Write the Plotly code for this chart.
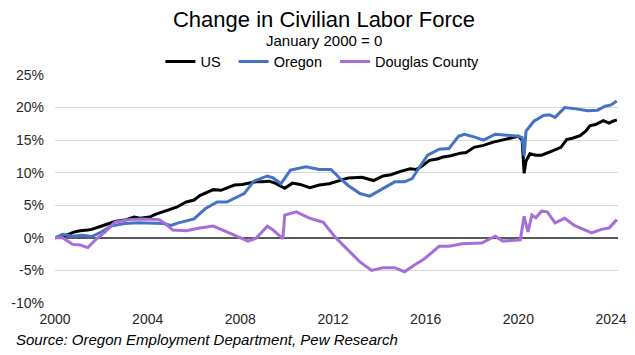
import plotly.graph_objects as go

# ---- data ----
us_dates = ["2000-01","2000-07","2000-11","2001-02","2001-06","2001-08","2002-02","2002-08",
            "2003-02","2003-06","2003-09","2004-02","2004-05","2004-09","2004-11","2005-04",
            "2005-09","2006-01","2006-04","2006-11","2007-03","2007-06","2007-10","2008-02",
            "2008-05","2008-09","2008-12","2009-04","2009-07","2009-12","2010-04","2010-08",
            "2011-01","2011-06","2011-11","2012-04","2012-09","2013-04","2013-10","2014-03",
            "2014-07","2014-12","2015-05","2015-08","2015-11","2016-03","2016-07","2016-10",
            "2017-02","2017-07","2017-10","2018-02","2018-07","2018-12","2019-05","2019-09",
            "2020-01","2020-03","2020-04","2020-05","2020-07","2020-10","2021-01","2021-07",
            "2021-11","2022-02","2022-05","2022-09","2022-12","2023-02","2023-05","2023-09",
            "2023-12","2024-02","2024-04"]
us_values = [0.0,0.4,0.9,1.1,1.2,1.3,1.9,2.5,
             2.8,3.2,3.0,3.2,3.6,4.0,4.2,4.7,
             5.5,5.8,6.5,7.4,7.3,7.6,8.1,8.2,
             8.4,8.6,8.6,8.7,8.4,7.6,8.4,8.2,
             7.7,8.1,8.3,8.8,9.2,9.3,8.8,9.5,
             9.7,10.2,10.6,10.5,11.0,11.9,12.1,12.4,
             12.6,13.0,13.1,13.9,14.2,14.7,15.0,15.3,
             15.6,15.0,9.9,11.8,12.9,12.7,12.7,13.4,
             13.9,15.1,15.3,15.7,16.4,17.2,17.4,18.0,
             17.6,17.9,18.1]

or_dates = ["2000-01","2000-05","2000-10","2001-03","2001-08","2002-01","2002-06","2003-01",
            "2003-08","2004-05","2004-09","2005-01","2005-05","2006-01","2006-07","2007-01",
            "2007-06","2008-03","2008-08","2009-03","2009-06","2009-10","2010-03","2010-11",
            "2011-06","2011-12","2012-04","2012-09","2013-03","2013-08","2014-02","2014-09",
            "2015-02","2015-06","2015-09","2016-02","2016-08","2017-01","2017-06","2017-09",
            "2018-02","2018-07","2019-01","2019-07","2020-01","2020-03","2020-04","2020-05",
            "2020-09","2021-02","2021-05","2021-08","2022-01","2022-07","2023-01","2023-06",
            "2023-10","2024-01","2024-04"]
or_values = [0.0,0.55,0.25,0.4,0.2,0.9,1.8,2.2,
             2.3,2.3,2.2,1.9,2.3,2.9,4.5,5.5,
             5.5,6.8,8.7,9.5,9.2,8.3,10.4,10.9,
             10.5,10.5,9.3,8.0,6.8,6.4,7.4,8.6,
             8.6,9.1,10.5,12.7,13.6,13.7,15.6,15.9,
             15.5,15.0,15.9,15.8,15.6,15.4,12.6,16.4,
             17.9,18.8,18.9,18.5,20.0,19.8,19.5,19.6,
             20.2,20.4,21.0]

dc_dates = ["2000-01","2000-05","2000-10","2001-02","2001-06","2001-10","2002-03","2002-08",
            "2003-03","2003-10","2004-07","2004-10","2005-02","2005-09","2006-04","2006-11",
            "2007-06","2007-11","2008-05","2008-09","2009-03","2009-06","2009-11","2009-12",
            "2010-06","2011-01","2011-08","2012-02","2012-09","2013-03","2013-09","2014-03",
            "2014-09","2015-02","2015-07","2015-12","2016-08","2017-01","2017-08","2018-06",
            "2019-01","2019-05","2020-02","2020-04","2020-06","2020-08","2020-10","2021-01",
            "2021-04","2021-08","2022-01","2022-06","2023-03","2023-08","2023-12","2024-04"]
dc_values = [0.0,0.0,-1.0,-1.1,-1.5,-0.3,0.9,2.4,
             2.8,2.9,2.8,2.2,1.2,1.1,1.5,1.8,
             0.9,0.25,-0.5,-0.1,1.8,1.2,-0.1,3.5,
             4.0,3.0,2.4,0.15,-1.9,-3.7,-5.0,-4.6,
             -4.6,-5.2,-4.2,-3.3,-1.3,-1.3,-0.9,-0.8,
             0.25,-0.5,-0.3,3.3,0.9,3.5,3.1,4.1,
             4.0,2.3,3.0,1.9,0.75,1.3,1.5,2.8]

y_ticks = [-10, -5, 0, 5, 10, 15, 20, 25]
y_tick_labels = ["-10%", "-5%", "0%", "5%", "10%", "15%", "20%", "25%"]
x_ticks = ["2000-01-01", "2004-01-01", "2008-01-01", "2012-01-01",
           "2016-01-01", "2020-01-01", "2024-01-01"]
x_tick_labels = ["2000", "2004", "2008", "2012", "2016", "2020", "2024"]

FONT = "Liberation Sans, Arial, sans-serif"
NB = "\u00a0\u00a0"

fig = go.Figure()
fig.add_trace(go.Scatter(x=us_dates, y=us_values, name="US" + NB, mode="lines",
                         line=dict(color="#000000", width=3)))
fig.add_trace(go.Scatter(x=or_dates, y=or_values, name="Oregon" + NB, mode="lines",
                         line=dict(color="#4472C4", width=3)))
fig.add_trace(go.Scatter(x=dc_dates, y=dc_values, name="Douglas County", mode="lines",
                         line=dict(color="#A66FD8", width=3)))

fig.update_layout(
    width=635, height=355,
    margin=dict(l=55, r=17, t=75, b=52, pad=0, autoexpand=False),
    paper_bgcolor="white", plot_bgcolor="white",
    font=dict(family=FONT, color="#262626", size=14),
    showlegend=True,
    legend=dict(orientation="h", x=0.475, xanchor="center", y=(303.3 - 61.5) / 228.3,
                yanchor="middle",
                font=dict(size=14.5, color="#000000"), bgcolor="rgba(0,0,0,0)",
                itemwidth=30, tracegroupgap=0),
    title=dict(text="Change in Civilian Labor Force", x=324 / 635, xanchor="center",
               xref="container", y=1 - 19.5 / 355, yref="container", yanchor="middle",
               font=dict(size=22, color="#000000", family=FONT)),
    xaxis=dict(range=["2000-01-01", "2024-04-20"], tickvals=x_ticks, ticktext=x_tick_labels,
               showgrid=False, zeroline=False, showline=False, ticks="",
               tickfont=dict(size=14, color="#262626"), ticklabelstandoff=6),
    yaxis=dict(range=[-10, 25], tickvals=y_ticks, ticktext=y_tick_labels,
               showgrid=True, gridcolor="#D9D9D9", gridwidth=1,
               zeroline=True, zerolinecolor="#595959", zerolinewidth=1.5,
               showline=False, ticks="", tickfont=dict(size=14, color="#262626"),
               ticklabelstandoff=10),
    annotations=[
        dict(text="January 2000 = 0", xref="paper", yref="paper",
             x=(324 - 55) / 563, y=(303.3 - 40.5) / 228.3, xanchor="center", yanchor="middle",
             showarrow=False, font=dict(size=15, color="#000000")),
        dict(text="<i>Source: Oregon Employment Department, Pew Research</i>",
             xref="paper", yref="paper", x=(14 - 55) / 563, y=(303.3 - 340) / 228.3,
             xanchor="left", yanchor="middle", showarrow=False,
             font=dict(size=15, color="#000000")),
    ],
)

fig.write_html("out.html", config={"displayModeBar": False},
               post_script="document.body.style.margin='0';")
